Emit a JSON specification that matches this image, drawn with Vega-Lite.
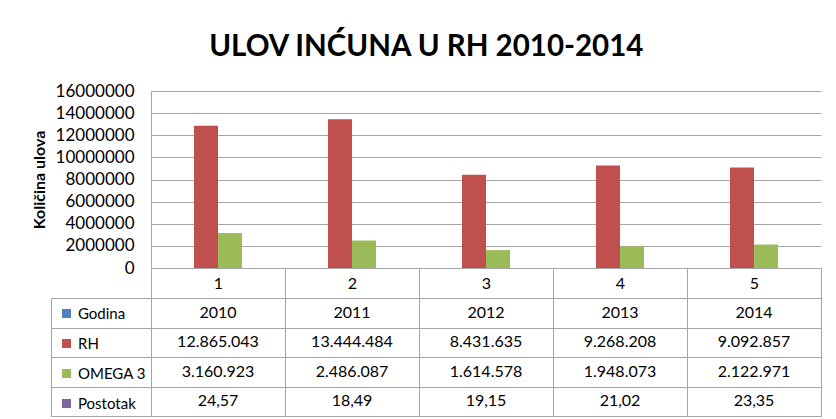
{
  "$schema": "https://vega.github.io/schema/vega-lite/v6.json",
  "background": "white",
  "padding": {"left": 31, "top": 31, "right": 5, "bottom": 5},
  "title": {"text": "ULOV INĆUNA U RH 2010-2014", "font": "Lato", "fontSize": 29.5, "fontWeight": "bold", "color": "#000000", "anchor": "middle", "offset": 20},
  "datasets": {
    "d": [
      {"cat": "1", "series": "Godina", "value": 2010},
      {"cat": "1", "series": "RH", "value": 12865043},
      {"cat": "1", "series": "OMEGA 3", "value": 3160923},
      {"cat": "1", "series": "Postotak", "value": 24.57},
      {"cat": "2", "series": "Godina", "value": 2011},
      {"cat": "2", "series": "RH", "value": 13444484},
      {"cat": "2", "series": "OMEGA 3", "value": 2486087},
      {"cat": "2", "series": "Postotak", "value": 18.49},
      {"cat": "3", "series": "Godina", "value": 2012},
      {"cat": "3", "series": "RH", "value": 8431635},
      {"cat": "3", "series": "OMEGA 3", "value": 1614578},
      {"cat": "3", "series": "Postotak", "value": 19.15},
      {"cat": "4", "series": "Godina", "value": 2013},
      {"cat": "4", "series": "RH", "value": 9268208},
      {"cat": "4", "series": "OMEGA 3", "value": 1948073},
      {"cat": "4", "series": "Postotak", "value": 21.02},
      {"cat": "5", "series": "Godina", "value": 2014},
      {"cat": "5", "series": "RH", "value": 9092857},
      {"cat": "5", "series": "OMEGA 3", "value": 2122971},
      {"cat": "5", "series": "Postotak", "value": 23.35}
    ]
  },
  "columns": 2,
  "bounds": "flush",
  "spacing": {"row": 30, "column": 0},
  "resolve": {"scale": {"color": "independent"}, "legend": {"color": "independent"}},
  "concat": [
    {
      "width": 100,
      "height": 177,
      "data": {"values": [{"a": 1}]},
      "mark": {"type": "point", "opacity": 0},
      "encoding": {},
      "view": {"stroke": null}
    },
    {
      "width": 670,
      "height": 177,
      "data": {"name": "d"},
      "view": {"stroke": null},
      "mark": {"type": "bar"},
      "encoding": {
        "x": {
          "field": "cat", "type": "nominal",
          "scale": {"paddingInner": 0, "paddingOuter": 0},
          "axis": {"title": null, "labelAngle": 0, "tickBand": "extent", "tickSize": 30, "tickColor": "#a6a6a6", "domainColor": "#a6a6a6", "labelPadding": -15, "labelBaseline": "middle", "labelFontSize": 16, "labelColor": "#000000", "grid": false}
        },
        "xOffset": {
          "field": "series", "type": "nominal",
          "scale": {"domain": ["Godina", "RH", "OMEGA 3", "Postotak"], "paddingInner": 0, "paddingOuter": 0.79}
        },
        "y": {
          "field": "value", "type": "quantitative",
          "scale": {"domain": [0, 16000000]},
          "axis": {"title": "Količina ulova", "titleFontSize": 16, "titleFontWeight": "bold", "titleColor": "#000000", "titlePadding": 8, "values": [0, 2000000, 4000000, 6000000, 8000000, 10000000, 12000000, 14000000, 16000000], "format": "d", "ticks": false, "labelPadding": 17, "labelFontSize": 17, "labelColor": "#000000", "grid": true, "gridColor": "#a6a6a6", "domainColor": "#a6a6a6"}
        },
        "color": {
          "field": "series", "type": "nominal",
          "scale": {"domain": ["Godina", "RH", "OMEGA 3", "Postotak"], "range": ["#4F81BD", "#C0504D", "#9BBB59", "#8064A2"]},
          "legend": null
        }
      }
    },
    {
      "width": 100,
      "height": 118,
      "data": {"name": "d"},
      "transform": [{"filter": "datum.cat == '1'"}],
      "view": {"stroke": "#a6a6a6"},
      "mark": {"type": "point", "shape": "square", "filled": true, "opacity": 0},
      "encoding": {
        "y": {
          "field": "series", "type": "nominal",
          "scale": {"domain": ["Godina", "RH", "OMEGA 3", "Postotak"], "paddingInner": 0, "paddingOuter": 0},
          "axis": {"title": null, "grid": true, "gridColor": "#a6a6a6", "tickBand": "extent", "labels": false, "ticks": false, "domain": false}
        },
        "color": {
          "field": "series", "type": "nominal",
          "scale": {"domain": ["Godina", "RH", "OMEGA 3", "Postotak"], "range": ["#4F81BD", "#C0504D", "#9BBB59", "#8064A2"]},
          "legend": {"orient": "top-left", "offset": 8, "padding": 0, "title": null, "symbolType": "square", "symbolSize": 81, "symbolOpacity": 1, "symbolStrokeWidth": 0, "labelFontSize": 15, "labelColor": "#000000", "labelOffset": 4, "rowPadding": 14, "labelLimit": 200}
        }
      }
    },
    {
      "width": 670,
      "height": 118,
      "data": {"name": "d"},
      "view": {"stroke": "#a6a6a6"},
      "encoding": {
        "x": {
          "field": "cat", "type": "nominal",
          "scale": {"paddingInner": 0, "paddingOuter": 0},
          "axis": {"title": null, "grid": true, "gridColor": "#a6a6a6", "tickBand": "extent", "labels": false, "ticks": false, "domain": false}
        },
        "y": {
          "field": "series", "type": "nominal",
          "scale": {"domain": ["Godina", "RH", "OMEGA 3", "Postotak"], "paddingInner": 0, "paddingOuter": 0},
          "axis": {"title": null, "grid": true, "gridColor": "#a6a6a6", "tickBand": "extent", "labels": false, "ticks": false, "domain": false}
        }
      },
      "layer": [
        {
          "transform": [{"filter": "datum.series == 'Godina'"}],
          "mark": {"type": "text", "fontSize": 16, "color": "#000000"},
          "encoding": {"text": {"field": "value", "type": "quantitative", "format": "d"}}
        },
        {
          "transform": [{"filter": "datum.series == 'RH' || datum.series == 'OMEGA 3'"}],
          "mark": {"type": "text", "fontSize": 16, "color": "#000000"},
          "encoding": {"text": {"field": "value", "type": "quantitative", "format": ",d"}}
        },
        {
          "transform": [{"filter": "datum.series == 'Postotak'"}],
          "mark": {"type": "text", "fontSize": 16, "color": "#000000"},
          "encoding": {"text": {"field": "value", "type": "quantitative", "format": ".2f"}}
        }
      ]
    }
  ],
  "config": {
    "font": "Lato",
    "locale": {"number": {"decimal": ",", "thousands": ".", "grouping": [3], "currency": ["", ""]}},
    "axis": {"labelFont": "Lato", "titleFont": "Lato"},
    "legend": {"labelFont": "Lato"}
  }
}
